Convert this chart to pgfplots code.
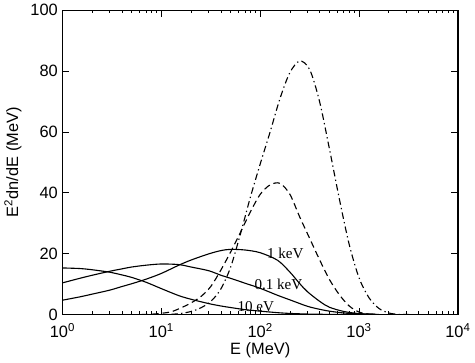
\documentclass[border=0pt]{standalone}
\usepackage{fontspec}
\setmainfont{Liberation Sans}
\newfontfamily\serif{Liberation Serif}
\usepackage{pgfplots}
\pgfplotsset{compat=1.18}

\begin{document}
\begin{tikzpicture}
\begin{axis}[
    scale only axis,
    width=301.5pt, height=232pt,
    xmode=log,
    xmin=1, xmax=10000, ymin=0, ymax=100,
    xtick={1,10,100,1000,10000},
    xticklabels={10\textsuperscript{0},10\textsuperscript{1},10\textsuperscript{2},10\textsuperscript{3},10\textsuperscript{4}},
    ytick={0,20,40,60,80,100},
    /pgf/number format/assume math mode=true,
    tick label style={font=\fontsize{12.5}{14}\selectfont},
    xticklabel style={yshift=-3.5pt},
    label style={font=\fontsize{12.5}{14}\selectfont},
    xlabel={E (MeV)},
    xlabel style={yshift=3pt},
    ylabel={E\textsuperscript{2}dn/dE (MeV)},
    major tick length=5pt, minor tick length=2.5pt,
    tick style={black, line width=0.6pt},
    axis line style={line width=0.9pt},
    cycle list={{black}},
    every axis plot/.append style={line width=0.85pt, no markers, smooth},
]
% 10 eV
\addplot[black] coordinates {(1,15.3) (1.5,15.1) (2,14.7) (3,13.9) (4,13.0) (5,12.2) (7,10.6)
  (10,8.5) (15,6.2) (20,5.0) (30,3.6) (40,2.8) (50,2.3) (70,1.6) (100,1.1)
  (150,0.6) (200,0.35) (300,0.15) (500,0.04) (1000,0)};
% 0.1 keV
\addplot[black] coordinates {(1,10.4) (1.5,11.9) (2,12.9) (3,14.2) (4,15.0) (5,15.6) (7,16.2)
  (10,16.6) (15,16.4) (20,15.6) (30,14.4) (40,12.9) (50,11.9) (70,10.3) (100,8.6)
  (150,6.3) (200,4.8) (300,2.7) (400,1.7) (500,1.1) (700,0.5) (1000,0.2) (1500,0.05)};
% 1 keV
\addplot[black] coordinates {(1,4.7) (1.5,5.8) (2,6.7) (3,8.0) (4,9.2) (5,10.1) (7,11.6)
  (10,13.5) (15,16.2) (20,17.9) (30,19.9) (40,21.0) (50,21.4) (70,21.2) (100,20.3)
  (150,17.8) (200,13.9) (250,10.2) (300,7.5) (400,4.3) (500,2.4) (700,1.0) (1000,0.3) (1500,0.05)};
% dashed
\addplot[black, dash pattern=on 5pt off 3pt] coordinates {(6.31,0) (7.94,0.1) (10,0.4) (12.59,0.9)
  (15.85,2.2) (19.95,3.8) (25.12,5.9) (31.62,9.2) (39.81,14.5) (50.12,20.5) (63.10,27.0)
  (79.43,33.7) (100,39.5) (125.9,42.6) (158.5,43.1) (199.5,39.5) (251.2,32.0) (316.2,25.0)
  (398.1,18.0) (501.2,11.5) (631.0,6.5) (794.3,2.8) (1000,0.8) (1258.9,0.15) (1584.9,0)};
% dash-dot
\addplot[black, dash pattern=on 5pt off 2.5pt on 1pt off 2.5pt] coordinates {(12.59,0.05)
  (15.85,0.35) (19.95,1.0) (25.12,2.2) (31.62,4.3) (39.81,8.3) (50.12,15.5) (63.10,26.5)
  (79.43,38.5) (100,49.5) (125.9,60) (158.5,71) (199.5,79.5) (251.2,83.3) (316.2,80.5)
  (398.1,70) (501.2,54.4) (631.0,38) (794.3,23) (1000,12) (1258.9,5.5) (1584.9,2.0)
  (1995.3,0.5) (2511.9,0.05) (3162.3,0)};
\node[font=\serif\fontsize{11.5}{13}\selectfont] at (axis cs:179.5,20.0) {1 keV};
\node[font=\serif\fontsize{11.5}{13}\selectfont] at (axis cs:152.8,9.9) {0.1 keV};
\node[font=\serif\fontsize{11.5}{13}\selectfont] at (axis cs:90.2,2.65) {10 eV};
\end{axis}
\end{tikzpicture}
\end{document}
